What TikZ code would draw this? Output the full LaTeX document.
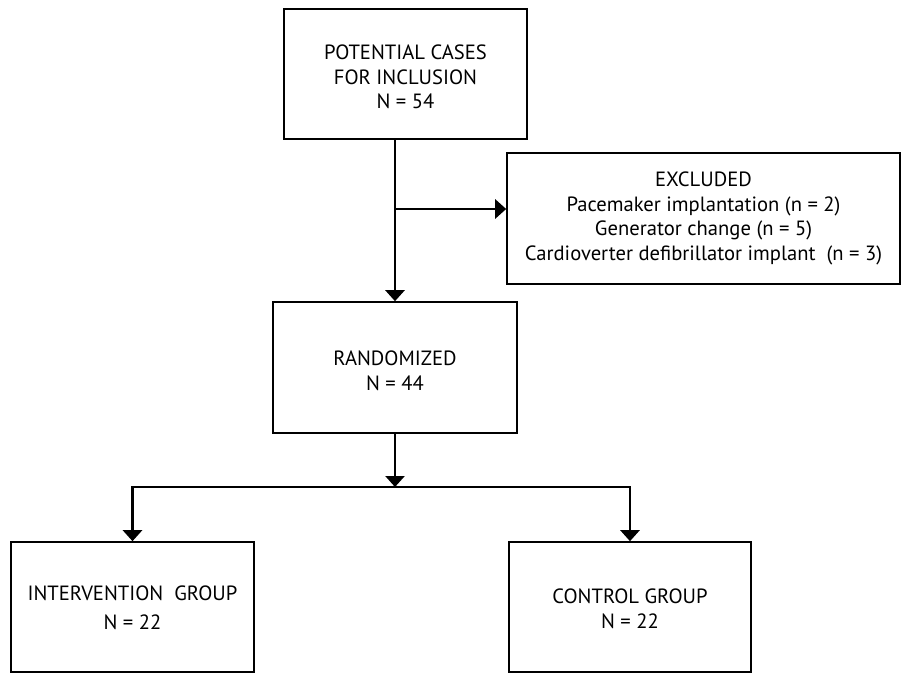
\documentclass[tikz,border=0pt]{standalone}
\usepackage{fontspec}
\setmainfont{PT Sans}
\usetikzlibrary{arrows.meta}
\tikzset{
  box/.style={draw=black, line width=1.6bp, align=center, inner sep=0pt,
    font=\fontsize{20.7}{24.8}\selectfont, text=black},
  conn/.style={draw=black, line width=2.7bp, -{Triangle[length=11bp,width=19bp]}},
  plainline/.style={draw=black, line width=2.7bp, line cap=butt}
}
\begin{document}
\begin{tikzpicture}[x=1bp,y=-1bp]
\useasboundingbox[fill=white] (0,0) rectangle (903,673);
\node[box, minimum width=243bp, minimum height=130bp] (top) at (405.5,74)
  {\\[-4bp]POTENTIAL CASES\\FOR INCLUSION\\N = 54};
\node[box, minimum width=393bp, minimum height=131bp] (excl) at (703.5,218.5)
  {EXCLUDED\\Pacemaker implantation (n = 2)\\Generator change (n = 5)\\Cardioverter defibrillator implant~ (n = 3)};
\node[box, minimum width=244bp, minimum height=131bp] (rand) at (395,367.5)
  {\\[-4bp]RANDOMIZED\\N = 44};
\node[box, minimum width=243bp, minimum height=130bp] (interv) at (132.5,607)
  {\\[-8bp]INTERVENTION~ GROUP\\[4bp]N = 22};
\node[box, minimum width=242bp, minimum height=130bp] (ctrl) at (630,607)
  {\\[-6bp]CONTROL GROUP\\N = 22};
\coordinate (br) at (395,209);
\coordinate (split) at (395,487);
\draw[conn] (top.south -| rand.north) -- (rand.north);
\draw[conn] (br) -- (br -| excl.west);
\draw[conn] (rand.south) -- (split);
\draw[plainline] ([xshift=-1.35bp]interv.north |- split) -- ([xshift=1.35bp]ctrl.north |- split);
\draw[conn] (interv.north |- split) -- (interv.north);
\draw[conn] (ctrl.north |- split) -- (ctrl.north);
\end{tikzpicture}
\end{document}
